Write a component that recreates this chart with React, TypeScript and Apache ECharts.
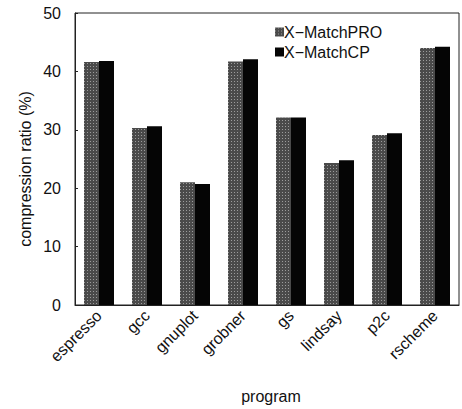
import React, { useEffect, useRef } from "react";
import * as echarts from "echarts";

const categories = ["espresso", "gcc", "gnuplot", "grobner", "gs", "lindsay", "p2c", "rscheme"];
const matchPRO = [41.6, 30.3, 21.0, 41.7, 32.1, 24.3, 29.1, 44.0];
const matchCP = [41.8, 30.6, 20.7, 42.1, 32.1, 24.8, 29.4, 44.2];
const seriesNames = ["X\u2212MatchPRO", "X\u2212MatchCP"];
const yTitle = "compression ratio (%)";
const xTitle = "program";

const FONT = "Liberation Sans, Arial, sans-serif";

export default function App() {
  const ref = useRef<HTMLDivElement>(null);
  useEffect(() => {
    if (!ref.current) return;
    const chart = echarts.init(ref.current, undefined, { renderer: "svg" });
    chart.setOption({
      animation: false,
      backgroundColor: "#fff",
      textStyle: { fontFamily: FONT, color: "#111" },
      grid: {
        left: 75,
        right: 3,
        top: 13,
        bottom: 104,
        show: true,
        borderColor: "#222",
        borderWidth: 1,
      },
      legend: {
        orient: "vertical",
        left: 270,
        top: 19,
        itemWidth: 9,
        itemHeight: 9,
        itemGap: 4,
        icon: "rect",
        textStyle: { fontFamily: FONT, fontSize: 16, color: "#111", padding: [0, 0, 0, -5] },
        data: seriesNames,
      },
      graphic: [
        {
          type: "text",
          x: 25,
          y: 169,
          rotation: Math.PI / 2,
          style: {
            text: yTitle,
            fontFamily: FONT,
            fontSize: 16,
            fill: "#111",
            align: "center",
            verticalAlign: "middle",
          },
        },
        {
          type: "text",
          x: 271,
          y: 396,
          style: {
            text: xTitle,
            fontFamily: FONT,
            fontSize: 16,
            fill: "#111",
            align: "center",
            verticalAlign: "middle",
          },
        },
      ],
      xAxis: {
        type: "category",
        data: categories,
        axisLine: { lineStyle: { color: "#222" } },
        axisTick: { show: false },
        axisLabel: {
          rotate: 45,
          fontFamily: FONT,
          fontSize: 16,
          color: "#111",
          margin: 8,
          interval: 0,
        },
      },
      yAxis: {
        type: "value",
        min: 0,
        max: 50,
        interval: 10,
        axisLine: { show: true, lineStyle: { color: "#222" } },
        axisTick: { show: true, inside: true, length: 3, lineStyle: { color: "#222" } },
        splitLine: { show: false },
        axisLabel: { fontFamily: FONT, fontSize: 16, color: "#111", margin: 14 },
      },
      series: [
        {
          name: seriesNames[0],
          type: "bar",
          data: matchPRO,
          barWidth: 15,
          barGap: "0%",
          itemStyle: {
            color: "#4a4a4a",
            decal: {
              symbol: "rect",
              symbolSize: 1,
              color: "rgba(255,255,255,0.45)",
              dashArrayX: [1, 2],
              dashArrayY: [1, 2],
            },
          },
        },
        {
          name: seriesNames[1],
          type: "bar",
          data: matchCP,
          barWidth: 15,
          barGap: "0%",
          itemStyle: { color: "#050505" },
        },
      ],
    });
    return () => chart.dispose();
  }, []);
  return (
    <div
      ref={ref}
      style={{ position: "fixed", left: 0, top: 0, width: 462, height: 409 }}
    />
  );
}
